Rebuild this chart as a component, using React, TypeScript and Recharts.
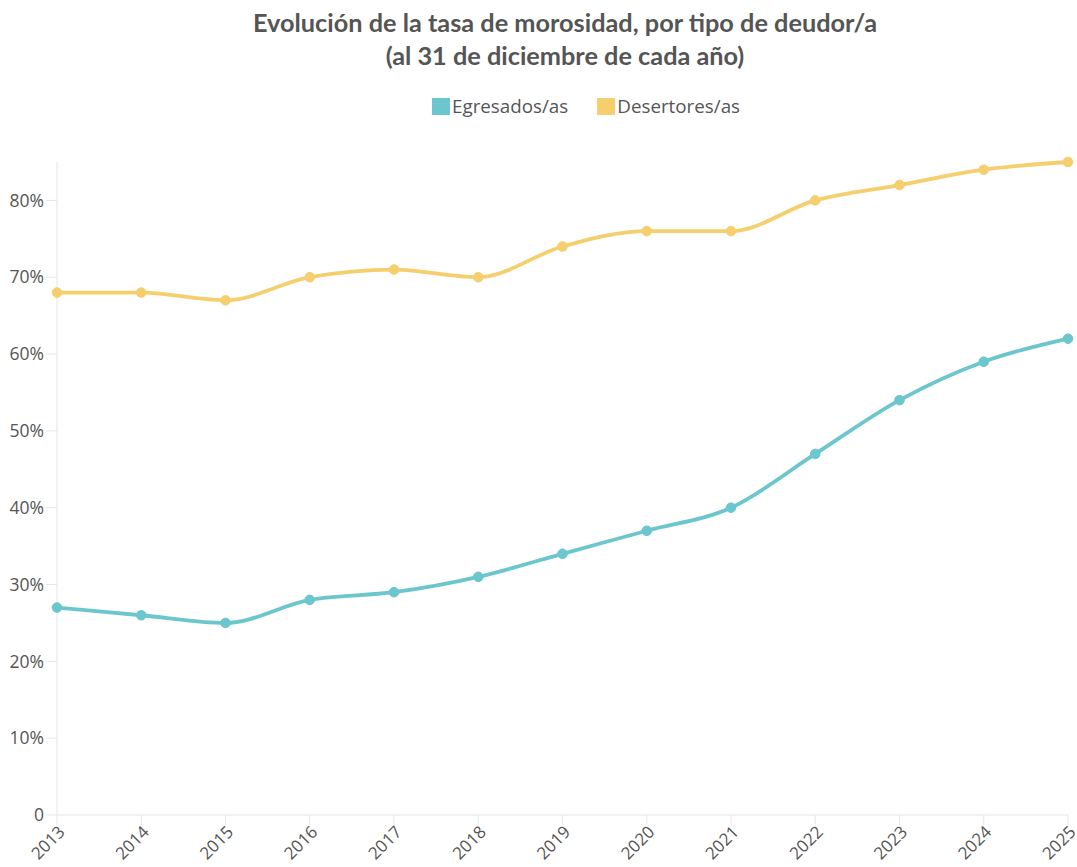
import React from "react";
import { LineChart, Line, XAxis, YAxis, Legend } from "recharts";

const years = ["2013","2014","2015","2016","2017","2018","2019","2020","2021","2022","2023","2024","2025"];
const egresados = [27,26,25,28,29,31,34,37,40,47,54,59,62];
const desertores = [68,68,67,70,71,70,74,76,76,80,82,84,85];
const yTicks = [0,10,20,30,40,50,60,70,80];
const seriesNames = ["Egresados/as", "Desertores/as"];

const data = years.map((y, i) => ({ year: y, egresados: egresados[i], desertores: desertores[i] }));

const TITLE_FONT = "Lato, sans-serif";
const FONT = "'Open Sans', sans-serif";
const TEAL = "#6cc6cd";
const YELLOW = "#f5cf6e";
const TEXT = "#555";

const XTick = (props: any) => {
  const { x, y, payload } = props;
  return (
    <g transform={`translate(${x + 9},${y + 6}) rotate(-45)`}>
      <text x={0} y={0} textAnchor="end" fill={TEXT} fontSize={17} fontFamily={FONT}>
        {payload.value}
      </text>
    </g>
  );
};

const LegendContent = () => {
  const colors = [TEAL, YELLOW];
  return (
    <div style={{ display: "flex", alignItems: "center", height: 20, fontFamily: FONT, fontSize: 18.8, color: TEXT }}>
      {seriesNames.map((n, i) => (
        <div key={n} style={{ display: "flex", alignItems: "center", marginRight: i === 0 ? 29 : 0 }}>
          <span style={{ display: "inline-block", width: 18, height: 17, background: colors[i], marginRight: 2 }} />
          <span style={{ whiteSpace: "nowrap" }}>{n}</span>
        </div>
      ))}
    </div>
  );
};

export default function App() {
  return (
    <div style={{ position: "absolute", left: 0, top: 0, width: 1077, height: 867, background: "#fff", overflow: "hidden" }}>
      <div style={{ position: "absolute", left: 0, top: 6, width: 1130, textAlign: "center", color: TEXT, fontFamily: TITLE_FONT, fontWeight: 700, fontSize: 25.3, lineHeight: "33px" }}>
        Evolución de la tasa de morosidad, por tipo de deudor/a
        <br />(al 31 de diciembre de cada año)
      </div>
      <LineChart width={1077} height={867} data={data} margin={{ top: 142, right: 9, bottom: 0, left: 0 }}>
        <Legend
          verticalAlign="top"
          content={<LegendContent />}
          wrapperStyle={{ top: 96, left: 432, width: 400 }}
        />
        <XAxis
          dataKey="year"
          interval={0}
          height={52}
          tick={<XTick />}
          tickLine={{ stroke: "#e6e6e6" }}
          tickSize={10}
          axisLine={{ stroke: "#e6e6e6" }}
        />
        <YAxis
          width={57}
          domain={[0, 85]}
          ticks={yTicks}
          tickFormatter={(v: number) => (v === 0 ? "0" : `${v}%`)}
          tick={{ fill: TEXT, fontSize: 17.5, fontFamily: FONT }}
          tickLine={{ stroke: "#e6e6e6" }}
          tickSize={11}
          axisLine={{ stroke: "#e6e6e6" }}
        />
        <Line name="Egresados/as" dataKey="egresados" type="monotone" stroke={TEAL} strokeWidth={3.8} dot={{ r: 4.8, fill: TEAL, stroke: TEAL, strokeWidth: 1 }} activeDot={false} isAnimationActive={false} />
        <Line name="Desertores/as" dataKey="desertores" type="monotone" stroke={YELLOW} strokeWidth={3.8} dot={{ r: 4.8, fill: YELLOW, stroke: YELLOW, strokeWidth: 1 }} activeDot={false} isAnimationActive={false} />
      </LineChart>
    </div>
  );
}
